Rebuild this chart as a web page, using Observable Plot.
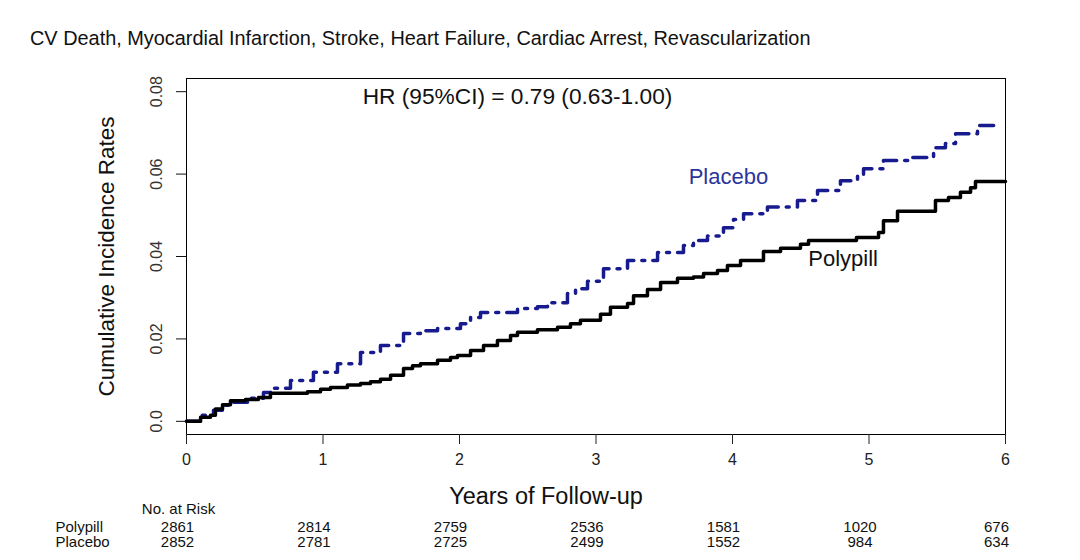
<!DOCTYPE html>
<html><head><meta charset="utf-8">
<script src="https://cdn.jsdelivr.net/npm/d3@7"></script>
<script src="https://cdn.jsdelivr.net/npm/@observablehq/plot@0.6"></script>
<style>
body{margin:0;background:#fff;font-family:"Liberation Sans",Arial,sans-serif;}
#title{height:60px;box-sizing:border-box;padding:27px 0 0 30px;font-size:19.9px;line-height:22px;color:#111;white-space:nowrap}
</style></head><body>
<div id="title">CV Death, Myocardial Infarction, Stroke, Heart Failure, Cardiac Arrest, Revascularization</div>
<div id="chart"></div>
<script>
const polypillTime = [0,0.103,0.176,0.212,0.264,0.322,0.432,0.527,0.615,0.886,0.982,1.055,1.179,1.275,1.348,1.421,1.495,1.590,1.656,1.714,1.839,1.934,1.985,2.081,2.176,2.278,2.374,2.425,2.571,2.718,2.813,2.886,3.033,3.106,3.231,3.275,3.377,3.473,3.597,3.714,3.788,3.890,3.963,4.059,4.227,4.352,4.498,4.557,4.908,5.070,5.106,5.209,5.487,5.582,5.670,5.744,5.780,6.0];
const polypillRate = [0,0.001,0.0015,0.003,0.004,0.005,0.0053,0.0058,0.0068,0.0072,0.0078,0.0082,0.0088,0.0092,0.0096,0.0102,0.0112,0.0128,0.0135,0.014,0.0148,0.0155,0.016,0.0172,0.0184,0.0196,0.0208,0.0216,0.0222,0.0228,0.0237,0.0245,0.026,0.0277,0.0286,0.0305,0.032,0.0337,0.0347,0.035,0.0359,0.0366,0.0378,0.039,0.0412,0.042,0.043,0.0439,0.0446,0.0458,0.0487,0.051,0.0536,0.0543,0.0556,0.0567,0.0582,0.0582];
const placeboTime = [0,0.103,0.198,0.271,0.344,0.469,0.564,0.615,0.762,0.930,1.106,1.275,1.421,1.590,1.714,1.839,2.007,2.081,2.154,2.425,2.571,2.645,2.791,2.850,2.938,3.055,3.231,3.451,3.641,3.714,3.817,3.934,4.007,4.081,4.256,4.476,4.623,4.791,4.916,4.960,5.106,5.304,5.473,5.560,5.634,5.795,5.927];
const placeboRate = [0,0.0015,0.0027,0.0039,0.0046,0.0056,0.007,0.008,0.0099,0.0119,0.014,0.0167,0.0184,0.0213,0.022,0.0225,0.0237,0.0252,0.0264,0.0274,0.0278,0.0288,0.031,0.0322,0.034,0.037,0.039,0.041,0.0427,0.0439,0.045,0.047,0.049,0.0504,0.052,0.0536,0.056,0.0584,0.0596,0.0613,0.0633,0.064,0.0664,0.0674,0.0698,0.0718,0.0722];
const xTicks = [0,1,2,3,4,5,6];
const yTicks = [0,0.02,0.04,0.06,0.08];
const yTickLabels = ["0.0","0.02","0.04","0.06","0.08"];
const groupNames = ["Polypill","Placebo"];
const riskPolypill = [2861,2814,2759,2536,1581,1020,676];
const riskPlacebo = [2852,2781,2725,2499,1552,984,634];
const hrText = "HR (95%CI) = 0.79 (0.63-1.00)";

const polypill = polypillTime.map((t,i)=>({t, r: polypillRate[i]}));
const placebo = placeboTime.map((t,i)=>({t, r: placeboRate[i]}));
const yTickData = yTicks.map((v,i)=>({v, s: yTickLabels[i]}));
const riskA = xTicks.map((t,i)=>({t, n: String(riskPolypill[i])}));
const riskB = xTicks.map((t,i)=>({t, n: String(riskPlacebo[i])}));

const blue = "#171b8e";
const chart = Plot.plot({
  width: 1080, height: 500,
  marginLeft: 186, marginRight: 75, marginTop: 18, marginBottom: 126,
  x: {domain: [0, 6]},
  y: {domain: [-0.0032, 0.0832]},
  style: {fontFamily: "'Liberation Sans', Arial, sans-serif", color: "#111", background: "white", overflow: "visible"},
  marks: [
    Plot.frame({stroke: "#000", strokeWidth: 1}),
    Plot.line(placebo, {x: "t", y: "r", curve: "step-after", stroke: blue, strokeWidth: 3.5, strokeDasharray: "14,8,3,8"}),
    Plot.line(polypill, {x: "t", y: "r", curve: "step-after", stroke: "#000", strokeWidth: 3.5}),
    Plot.axisX({ticks: xTicks, tickSize: 10, tickPadding: 9, fontSize: 16, tickFormat: d => String(d), label: null, color: "#222"}),
    Plot.axisY({ticks: yTicks, tickSize: 10, tickFormat: () => "", label: null}),
    Plot.text(yTickData, {y: "v", text: "s", frameAnchor: "left", rotate: -90, dx: -30, fontSize: 16, textAnchor: "middle", fill: "#333"}),
    Plot.text(["Cumulative Incidence Rates"], {frameAnchor: "left", rotate: -90, dx: -80, fontSize: 22.5, textAnchor: "middle", fill: "#111"}),
    Plot.text(["Years of Follow-up"], {frameAnchor: "bottom", dx: -50, dy: 69, fontSize: 23.5, fill: "#111"}),
    Plot.text([hrText], {x: [2.425], y: [0.0788], fontSize: 22.7, fill: "#111"}),
    Plot.text([groupNames[1]], {x: [3.97], y: [0.0594], fontSize: 22, fill: "#2b359c"}),
    Plot.text([groupNames[0]], {x: [4.81], y: [0.0393], fontSize: 22, fill: "#111"}),
    Plot.text(["No. at Risk"], {x: [0], frameAnchor: "bottom", dx: -8, dy: 79, fontSize: 15, fill: "#111"}),
    Plot.text([groupNames[0]], {x: [0], frameAnchor: "bottom", dx: -131, dy: 97, fontSize: 15, textAnchor: "start", fill: "#111"}),
    Plot.text([groupNames[1]], {x: [0], frameAnchor: "bottom", dx: -131, dy: 112, fontSize: 15, textAnchor: "start", fill: "#111"}),
    Plot.text(riskA, {x: "t", text: "n", frameAnchor: "bottom", dx: -9, dy: 97, fontSize: 15, fill: "#111"}),
    Plot.text(riskB, {x: "t", text: "n", frameAnchor: "bottom", dx: -9, dy: 112, fontSize: 15, fill: "#111"})
  ]
});
document.getElementById("chart").appendChild(chart);
</script>
</body></html>
